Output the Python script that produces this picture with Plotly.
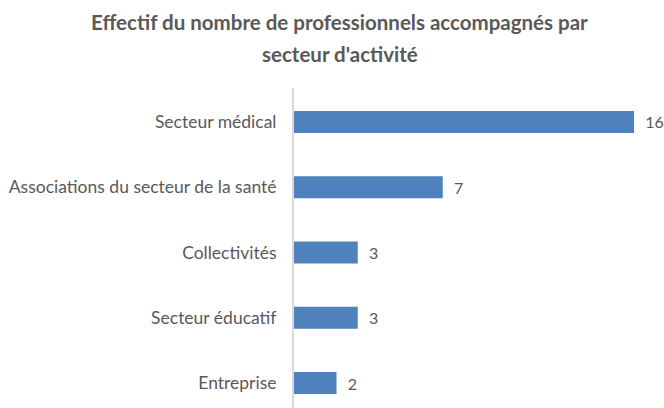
import plotly.graph_objects as go

categories = ["Secteur médical", "Associations du secteur de la santé", "Collectivités", "Secteur éducatif", "Entreprise"]
values = [16, 7, 3, 3, 2]
title_lines = ["Effectif du nombre de professionnels accompagnés par", "secteur d'activité"]

FONT = "Lato"
GRAY = "#595959"

fig = go.Figure(go.Bar(
    x=values, y=categories, orientation="h",
    marker=dict(color="#4F81BD", line=dict(width=0)),
    text=values, texttemplate="  %{text}", textposition="outside",
    textfont=dict(family=FONT, size=16, color=GRAY),
    cliponaxis=False, hoverinfo="skip",
))

fig.update_layout(
    width=664, height=408,
    margin=dict(l=294, r=20, t=88, b=0, autoexpand=False),
    paper_bgcolor="white", plot_bgcolor="white",
    bargap=0.663,
    showlegend=False,
    xaxis=dict(range=[0, 16.47], visible=False, fixedrange=True, automargin=False),
    yaxis=dict(range=[4.383, -0.521], showline=True, linecolor="#d9d9d9", linewidth=2,
               showgrid=False, zeroline=False, ticks="", ticklabelstandoff=12, automargin=False,
               fixedrange=True, tickfont=dict(family=FONT, size=17.5, color=GRAY)),
    annotations=[
        dict(text="<b>%s</b>" % title_lines[0], xref="paper", yref="paper", x=0.131, y=1.206,
             showarrow=False, xanchor="center", yanchor="middle",
             font=dict(family=FONT, size=20.5, color=GRAY)),
        dict(text="<b>%s</b>" % title_lines[1], xref="paper", yref="paper", x=0.131, y=1.106,
             showarrow=False, xanchor="center", yanchor="middle",
             font=dict(family=FONT, size=20.5, color=GRAY)),
    ],
)

fig.write_html("out.html", config={"displayModeBar": False},
               post_script="document.body.style.margin='0';document.body.style.overflow='hidden';")
